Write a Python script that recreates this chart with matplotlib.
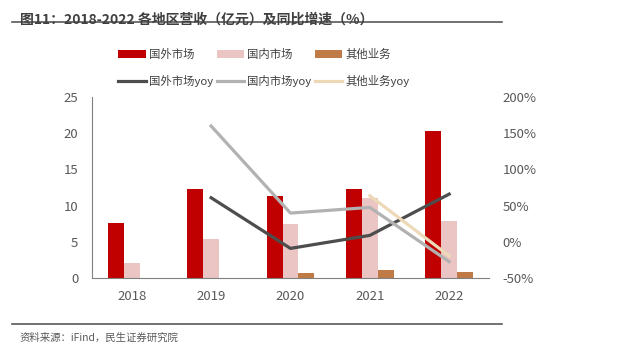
import matplotlib.pyplot as plt
import numpy as np

plt.rcParams['font.family'] = ['Noto Sans CJK SC', 'DejaVu Sans']

years = ['2018', '2019', '2020', '2021', '2022']
overseas = [7.65, 12.25, 11.3, 12.25, 20.3]
domestic = [2.15, 5.37, 7.47, 11.05, 7.93]
other = [np.nan, np.nan, 0.73, 1.14, 0.91]

overseas_yoy = [np.nan, 61, -8.7, 9.2, 66]
domestic_yoy = [np.nan, 159.7, 39.9, 47.7, -27]
other_yoy = [np.nan, np.nan, np.nan, 63.8, -19]

red = '#C00000'
pink = '#EBC4C4'
brown = '#C07A46'
tick_color = '#595959'

fig = plt.figure(figsize=(6.18, 3.48), dpi=100)
ax = fig.add_axes([0.149, 0.2, 0.642, 0.522])
ax2 = ax.twinx()

x = np.arange(len(years))
w = 0.2
b1 = ax.bar(x - w, overseas, w, color=red, label='国外市场')
b2 = ax.bar(x, domestic, w, color=pink, label='国内市场')
b3 = ax.bar(x + w, other, w, color=brown, label='其他业务')

l1, = ax2.plot(x, overseas_yoy, color='#4D4D4D', lw=2.3, label='国外市场yoy')
l2, = ax2.plot(x, domestic_yoy, color='#B2B2B2', lw=2.3, label='国内市场yoy')
l3, = ax2.plot(x, other_yoy, color='#EDD9B8', lw=2.3, label='其他业务yoy')

ax.set_xlim(-0.5, 4.5)
ax.set_ylim(0, 25)
ax.set_yticks(range(0, 26, 5))
ax2.set_ylim(-50, 200)
ax2.set_yticks(range(-50, 201, 50))
ax2.set_yticklabels([f'{v}%' for v in range(-50, 201, 50)])
ax.set_xticks(x)
ax.set_xticklabels(years)

for a in (ax, ax2):
    a.spines['top'].set_visible(False)
    a.spines['right'].set_visible(False)
    a.tick_params(colors=tick_color, labelsize=9.5, length=0)
ax2.spines['left'].set_visible(False)
ax2.spines['bottom'].set_visible(False)
ax.spines['left'].set_color('#808080')
ax.spines['bottom'].set_color('#808080')
ax.tick_params(axis='x', pad=8)
ax.tick_params(axis='y', pad=10)
ax2.tick_params(axis='y', pad=10)

# legend: 3 columns, bars in row 1, lines in row 2
handles = [b1, l1, b2, l2, b3, l3]
labels = [h.get_label() for h in handles]
fig.legend(handles, labels, ncol=3, loc='upper left', bbox_to_anchor=(0.175, 0.89),
           frameon=False, fontsize=8.2, handlelength=2.4, handletextpad=0.3,
           columnspacing=0.3, labelspacing=1.35, labelcolor='#404040')

fig.text(0.032, 0.965, '图11：2018-2022 各地区营收（亿元）及同比增速（%）', fontsize=10,
         fontweight='bold', color='#404040', va='top')
fig.add_artist(plt.Line2D([0.02, 0.812], [0.937, 0.937], color='#595959', lw=1.2))
fig.add_artist(plt.Line2D([0.02, 0.812], [0.07, 0.07], color='#595959', lw=1.2))
fig.text(0.032, 0.03, '资料来源：iFind，民生证券研究院', fontsize=7.5, color='#595959', va='center')

fig.savefig('out.png', dpi=100)
